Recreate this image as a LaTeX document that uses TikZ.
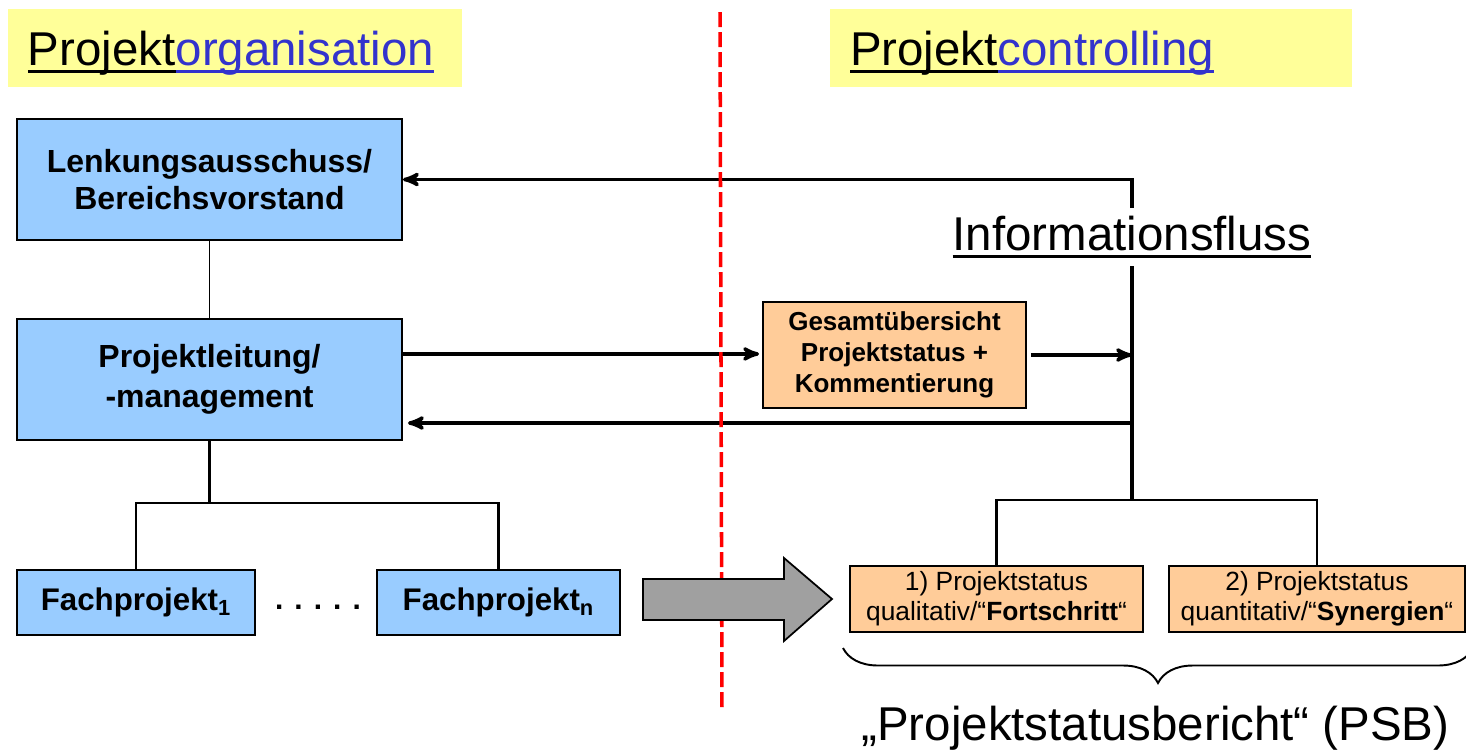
\documentclass[tikz,border=0pt]{standalone}
\usepackage{fontspec}
\setmainfont{Liberation Sans}
\usepackage{tikz}
\usetikzlibrary{arrows,positioning,decorations.pathreplacing}
\definecolor{headyellow}{HTML}{FFFF99}
\definecolor{linkblue}{HTML}{3333CC}
\definecolor{orgblue}{HTML}{99CCFF}
\definecolor{ctrlorange}{HTML}{FFCC99}
\definecolor{arrowgray}{HTML}{A0A0A0}
\newsavebox{\ulbox}
\newcommand{\ulword}[1]{\sbox{\ulbox}{#1}\rlap{\rule[-4.8pt]{\wd\ulbox}{1.8pt}}\usebox{\ulbox}}
\tikzset{org node/.style={rectangle,fill=orgblue,draw,line width=1.1pt,inner sep=0pt,align=center},
	ctrl node/.style={rectangle,fill=ctrlorange,draw,line width=1.1pt,inner sep=0pt,align=center},
	head node/.style={rectangle,fill=headyellow,inner xsep=0.4cm,inner ysep=0pt,minimum height=1.56cm,text height=0.9cm,text depth=0.22cm,align=left,font=\fontsize{27}{32}\selectfont},
}

\begin{document}
\begin{tikzpicture}[>=stealth',line width=2pt]
		\useasboundingbox (0,0) rectangle (29.32,-15.06);
		
		\node[head node,text width=8.28cm] (orghead) at (4.7,-0.96) {\ulword{Projekt}\textcolor{linkblue}{\ulword{organisation}}};
		\node[head node,text width=9.64cm] (ctrlhead) at (21.82,-0.96) {\ulword{Projekt}\textcolor{linkblue}{\ulword{controlling}}};
		
		\node[org node,minimum width=7.7cm,minimum height=2.42cm,font=\bfseries\fontsize{18.2}{21.5}\selectfont] (lenk) at (4.19,-3.59) {Lenkungsausschuss/\\Bereichsvorstand};
		\node[org node,minimum width=7.7cm,minimum height=2.42cm,font=\bfseries\fontsize{18.2}{22.5}\selectfont] (pl) [below=1.54cm of lenk] {Projektleitung/\\-management};
		\node[org node,minimum width=4.76cm,minimum height=1.3cm,font=\bfseries\fontsize{17.8}{20}\selectfont] (fach1) at (2.72,-12.05) {Fachprojekt\textsubscript{1}};
		\node[org node,minimum width=4.86cm,minimum height=1.3cm,font=\bfseries\fontsize{17.8}{20}\selectfont] (fachn) [right=2.4cm of fach1] {Fachprojekt\textsubscript{n}};
		\node[font=\bfseries\fontsize{17}{20}\selectfont] (dots) at (6.36,-12.14) {. . . . .};
		
		\node[ctrl node,minimum width=5.26cm,minimum height=2.12cm,font=\bfseries\fontsize{14.8}{17.6}\selectfont] (gesamt) at (17.89,-7.1) {Gesamtübersicht\\Projektstatus +\\Kommentierung};
		\node[ctrl node,minimum width=5.86cm,minimum height=1.32cm,font=\fontsize{15}{17}\selectfont] (st1) at (19.93,-11.98) {1) Projektstatus\\qualitativ/“\textbf{Fortschritt}“};
		\node[ctrl node,minimum width=5.92cm,minimum height=1.32cm,font=\fontsize{15}{17}\selectfont] (st2) [right=0.48cm of st1] {2) Projektstatus\\quantitativ/“\textbf{Synergien}“};
		
		\node[anchor=base,font=\fontsize{27}{32}\selectfont] (info) at (22.64,-5.0) {\ulword{Informationsfluss}};
		\node[anchor=base,font=\fontsize{27}{32}\selectfont] (psb) at (23.11,-14.8) {„Projektstatusbericht“ (PSB)};
		
		\coordinate (fork) at (4.19,-10.06);
		\coordinate (hub) at (22.64,-10.0);
		\coordinate (ret) at (22.64,-8.46);
		
		\draw[line width=0.6pt] (lenk) -- (pl);
		\draw[line width=1.6pt] (pl) -- (fork);
		\draw[line width=1.6pt] (fach1.north) |- (fork) -| (fachn.north);
		\draw[->] (info.north) |- (lenk.east);
		\draw (info.south) -- (hub);
		\draw[line width=1.6pt] (st1.north) |- (hub) -| (st2.north);
		\draw[->,shorten >=0.06cm] ([yshift=0.51cm]pl.east) -- ([yshift=0.51cm]pl.east -| gesamt.west);
		\draw[->,shorten <=0.08cm] (gesamt.east) -- (gesamt.east -| info.south);
		\draw[->,shorten >=0.1cm] (ret) -- (ret -| pl.east);
		
		\draw[red,line width=2pt,dash pattern=on 0.3cm off 0.1cm] (14.4,-0.24) -- (14.44,-14.24);
		\draw[fill=arrowgray,line width=1pt] (12.86,-11.58) -- (15.68,-11.58) -- (15.68,-11.16) -- (16.64,-11.98) -- (15.68,-12.82) -- (15.68,-12.4) -- (12.86,-12.4) -- cycle;
		\draw[line width=1.1pt,decorate,decoration={brace,mirror,amplitude=0.7cm}] (16.86,-12.96) -- (29.46,-12.96);
\end{tikzpicture}
\end{document}
